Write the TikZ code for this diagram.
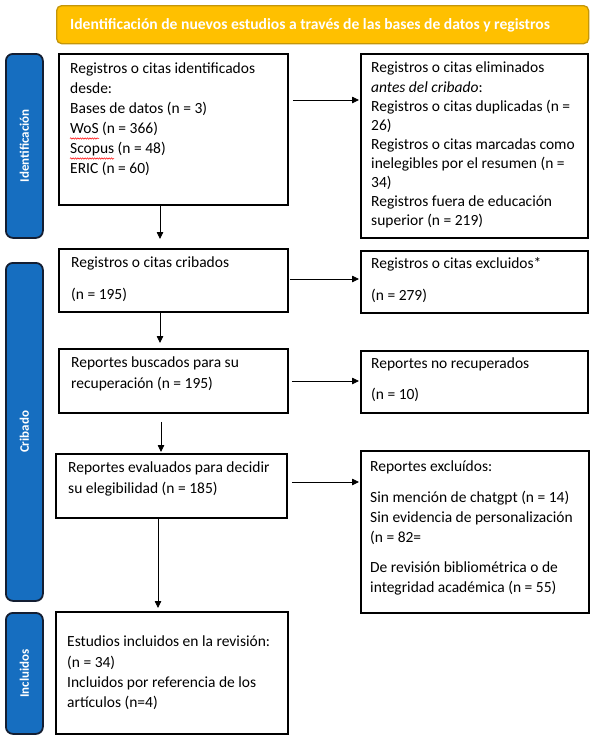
\documentclass[tikz,border=0pt]{standalone}
\usepackage{fontspec}
\setmainfont{Carlito}
\usetikzlibrary{arrows.meta,calc,decorations.pathmorphing}
\definecolor{hdrfill}{RGB}{255,192,0}
\definecolor{hdrdraw}{RGB}{196,150,10}
\definecolor{barfill}{RGB}{22,110,192}
\definecolor{bardraw}{RGB}{20,30,50}
\begin{document}
\begin{tikzpicture}[x=1pt,y=-1pt,
  box/.style={draw=black, line width=1.8pt, anchor=north west, inner sep=0pt},
  txt/.style={anchor=north west, inner sep=0pt, align=left, execute at begin node={\rule{0pt}{12pt}}},
  hdr/.style={draw=hdrdraw, fill=hdrfill, line width=1.3pt, rounded corners=5pt, anchor=north west, inner sep=0pt},
  bar/.style={draw=bardraw, fill=barfill, line width=1.8pt, rounded corners=7pt, anchor=north west, inner sep=0pt},
  bartxt/.style={rotate=90, text=white, font=\bfseries\fontsize{13}{15}\selectfont},
  arr/.style={-{Triangle[length=7pt,width=6.5pt]}, line width=0.8pt},
  squig/.style={red, line width=0.5pt, decorate, decoration={snake, amplitude=0.7pt, segment length=2.4pt}}]
\useasboundingbox (0,0) rectangle (592,739);
% header
\node[hdr, minimum width=532pt, minimum height=38pt] (hdr) at (56,5) {};
\node[anchor=base west, inner sep=0pt, text=white, font=\bfseries\fontsize{15.6}{19}\selectfont] (hdrt) at (70,29) {Identificación de nuevos estudios a través de las bases de datos y registros};
% side bars
\node[bar, minimum width=37pt, minimum height=184pt] (barI) at (5,53) {};
\node[bartxt] (barIt) at (barI.center) {Identificación};
\node[bar, minimum width=37pt, minimum height=338pt] (barC) at (5,262) {};
\node[bartxt] (barCt) at (barC.center) {Cribado};
\node[bar, minimum width=37pt, minimum height=121pt] (barN) at (5,612) {};
\node[bartxt] (barNt) at (barN.center) {Incluidos};
% boxes
\node[box, minimum width=229pt, minimum height=151pt] (b1) at (58,53) {};
\node[box, minimum width=227pt, minimum height=184pt] (b2) at (360,53) {};
\node[box, minimum width=229pt, minimum height=63pt] (b3) at (58,248) {};
\node[box, minimum width=227pt, minimum height=62pt] (b4) at (360,250) {};
\node[box, minimum width=229pt, minimum height=64pt] (b5) at (58,348) {};
\node[box, minimum width=227pt, minimum height=62pt] (b6) at (360,350) {};
\node[box, minimum width=231pt, minimum height=64pt] (b7) at (55,453) {};
\node[box, minimum width=228pt, minimum height=162pt] (b8) at (360,450) {};
\node[box, minimum width=232pt, minimum height=122pt] (b9) at (55,611) {};
% texts
\node[txt, font=\fontsize{15.5}{20}\selectfont] (t1) at (70,63) {Registros o citas identificados\\desde:\\Bases de datos (n = 3)\\WoS (n = 366)\\Scopus (n = 48)\\ERIC (n = 60)};
\node[txt, font=\fontsize{15.5}{19.1}\selectfont] (t2) at (371,62) {Registros o citas eliminados\\\textit{antes del cribado}:\\Registros o citas duplicadas (n =\\26)\\Registros o citas marcadas como\\inelegibles por el resumen (n =\\34)\\Registros fuera de educación\\superior (n = 219)};
\node[txt, font=\fontsize{15.5}{19.5}\selectfont] (t3) at (71,257) {Registros o citas cribados\\[12.5pt](n = 195)};
\node[txt, font=\fontsize{15.5}{19.5}\selectfont] (t4) at (371,257) {Registros o citas excluidos*\\[12.5pt](n = 279)};
\node[txt, font=\fontsize{15.5}{21}\selectfont] (t5) at (71,357) {Reportes buscados para su\\recuperación (n = 195)};
\node[txt, font=\fontsize{15.5}{19.5}\selectfont] (t6) at (371,358) {Reportes no recuperados\\[11.5pt](n = 10)};
\node[txt, font=\fontsize{15.5}{20.5}\selectfont] (t7) at (68,462) {Reportes evaluados para decidir\\su elegibilidad (n = 185)};
\node[txt, font=\fontsize{15.5}{20.2}\selectfont] (t8) at (370,461) {Reportes excluídos:\\[10pt]Sin mención de chatgpt (n = 14)\\Sin evidencia de personalización\\(n = 82=\\[10pt]De revisión bibliométrica o de\\integridad académica (n = 55)};
\node[txt, font=\fontsize{15.5}{20.3}\selectfont] (t9) at (67,636) {Estudios incluidos en la revisión:\\(n = 34)\\Incluidos por referencia de los\\artículos (n=4)};
% spell-check squiggles
\coordinate (sq1) at (70,138.5);
\coordinate (sq2) at (99,138.5);
\coordinate (sq3) at (70,158.5);
\coordinate (sq4) at (114,158.5);
\draw[squig] (sq1) -- (sq2);
\draw[squig] (sq3) -- (sq4);
% arrows
\draw[arr] ($(b1.north east)+(4,47)$) -- ($(b2.north west)+(-1,47)$);
\draw[arr] ($(b1.south west)+(102,0)$) -- ($(b3.north west)+(102,-9)$);
\draw[arr] ($(b3.north east)+(1,31)$) -- ($(b4.north west)+(-1,29)$);
\draw[arr] ($(b3.south west)+(102,0)$) -- ($(b5.north west)+(102,-5)$);
\draw[arr] ($(b5.north east)+(3,33)$) -- ($(b6.north west)+(-1,31)$);
\draw[arr] ($(b5.south west)+(103,8)$) -- ($(b7.north west)+(106,-1)$);
\draw[arr] ($(b7.north east)+(4,29)$) -- ($(b8.north west)+(-1,32)$);
\draw[arr] ($(b7.south west)+(103,0)$) -- ($(b9.north west)+(103,-3)$);
\end{tikzpicture}
\end{document}
